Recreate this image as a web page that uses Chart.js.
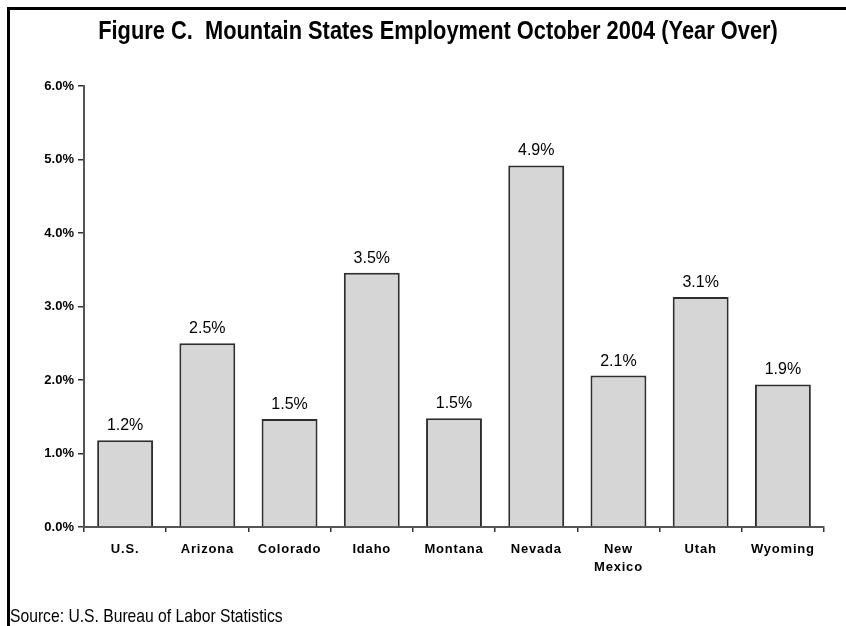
<!DOCTYPE html>
<html>
<head>
<meta charset="utf-8">
<script src="https://cdn.jsdelivr.net/npm/chart.js@4/dist/chart.umd.min.js"></script>
<style>
  html, body { margin: 0; padding: 0; background: #fff; }
  #wrap { position: relative; width: 846px; height: 626px; overflow: hidden; }
  #frame { position: absolute; left: 7px; top: 7px; width: 845px; height: 640px; border-left: 3px solid #000; border-top: 3px solid #000; box-sizing: border-box; }
  #title { position: absolute; left: -12px; width: 900px; top: 15px; line-height: 30px; text-align: center; white-space: nowrap;
           font: bold 26px "Liberation Sans", Arial, sans-serif; color: #000; transform: scaleX(0.84); transform-origin: 450px 50%; }
  #source { position: absolute; left: 10px; top: 605px; line-height: 22px; white-space: nowrap;
            font: 19px "Liberation Sans", Arial, sans-serif; color: #000; transform: scaleX(0.825); transform-origin: 0 50%; }
  canvas { position: absolute; left: 0; top: 0; }
</style>
</head>
<body>
<div id="wrap">
  <canvas id="c" width="846" height="626"></canvas>
  <div id="frame"></div>
  <div id="title">Figure C.&nbsp; Mountain States Employment October 2004 (Year Over)</div>
  <div id="source">Source: U.S. Bureau of Labor Statistics</div>
</div>
<script>
const categories = ["U.S.", "Arizona", "Colorado", "Idaho", "Montana", "Nevada", ["New", "Mexico"], "Utah", "Wyoming"];
const employmentGrowth = [1.18, 2.50, 1.47, 3.46, 1.48, 4.92, 2.06, 3.13, 1.94];
const yTicks = [0, 1, 2, 3, 4, 5, 6];

const dataLabels = {
  id: 'dataLabels',
  beforeDraw(chart) {
    const sx = chart.scales.x;
    if (sx && !sx._spaced) {
      const orig = sx.drawLabels;
      sx.drawLabels = function (area) {
        const ctx = this.ctx;
        const prev = ctx.letterSpacing;
        ctx.letterSpacing = '0.8px';
        orig.call(this, area);
        ctx.letterSpacing = prev || '0px';
      };
      sx._spaced = true;
    }
  },
  afterDatasetsDraw(chart) {
    const ctx = chart.ctx;
    const meta = chart.getDatasetMeta(0);
    ctx.save();
    ctx.font = '16px "Liberation Sans", Arial, sans-serif';
    ctx.fillStyle = '#000';
    ctx.textAlign = 'center';
    ctx.textBaseline = 'alphabetic';
    meta.data.forEach((bar, i) => {
      ctx.fillText(employmentGrowth[i].toFixed(1) + '%', bar.x, bar.y - 10);
    });
    ctx.restore();
  }
};

new Chart(document.getElementById('c'), {
  type: 'bar',
  data: {
    labels: categories,
    datasets: [{
      data: employmentGrowth,
      backgroundColor: '#d6d6d6',
      borderColor: '#2e2e2e',
      borderWidth: 2,
      borderSkipped: 'bottom',
      barPercentage: 0.8,
      categoryPercentage: 0.85
    }]
  },
  options: {
    responsive: false,
    animation: false,
    devicePixelRatio: 1,
    layout: { padding: { top: 86, left: 0, right: 22, bottom: 46 } },
    plugins: { legend: { display: false }, tooltip: { enabled: false }, title: { display: false } },
    scales: {
      y: {
        min: 0, max: 6,
        afterBuildTicks(scale) { scale.ticks = yTicks.map(v => ({ value: v })); },
        afterFit(scale) { scale.width = 84; },
        ticks: {
          callback: v => v.toFixed(1) + '%',
          font: { family: '"Liberation Sans", Arial, sans-serif', size: 13, weight: 'bold' },
          color: '#000',
          padding: 4
        },
        grid: { drawOnChartArea: false, drawTicks: true, tickLength: 6, color: '#333', lineWidth: 1.5 },
        border: { display: true, color: '#555', width: 2 }
      },
      x: {
        afterFit(scale) { scale.height = 53; },
        ticks: {
          font: { family: '"Liberation Sans", Arial, sans-serif', size: 13, weight: 'bold', lineHeight: 1.4 },
          color: '#000',
          padding: 8,
          maxRotation: 0,
          autoSkip: false
        },
        grid: { offset: true, drawOnChartArea: false, drawTicks: true, tickLength: 5, color: '#333', lineWidth: 1.5 },
        border: { display: true, color: '#555', width: 2 }
      }
    }
  },
  plugins: [dataLabels]
});
</script>
</body>
</html>
